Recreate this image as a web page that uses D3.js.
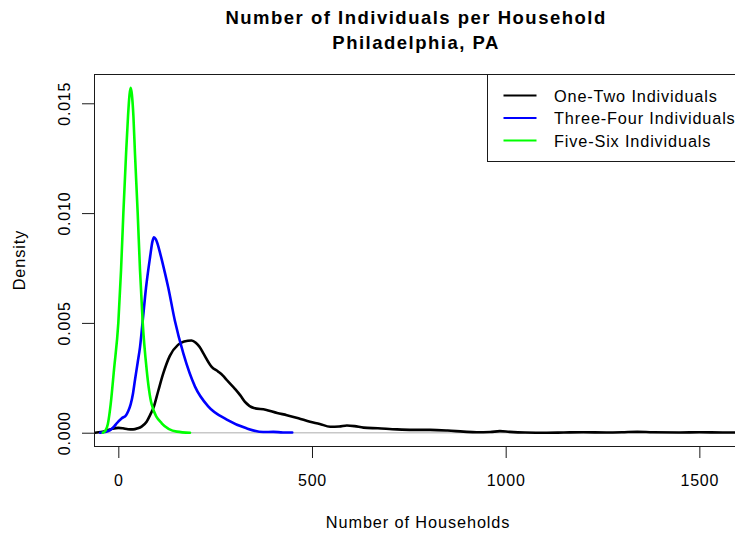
<!DOCTYPE html>
<html>
<head>
<meta charset="utf-8">
<script src="https://cdn.jsdelivr.net/npm/d3@7"></script>
<style>
  html, body { margin: 0; padding: 0; background: #fff; }
  svg { display: block; font-family: "Liberation Sans", Arial, Helvetica, sans-serif; }
</style>
</head>
<body>
<svg id="chart" width="735" height="534"></svg>
<script>
// ---------------- data ----------------
const titleLines = ["Number of Individuals per Household", "Philadelphia, PA"];
const xLabel = "Number of Households";
const yLabel = "Density";
const seriesNames = ["One-Two Individuals", "Three-Four Individuals", "Five-Six Individuals"];
const seriesColors = ["#000000", "#0000ff", "#00ff00"];
const xTicks = [0, 500, 1000, 1500];
const yTicks = [0, 0.005, 0.010, 0.015];

// One-Two Individuals: [households, density]
const oneTwo = [
  [-60, 0], [-45, 0.00003], [-30, 0.0001], [-15, 0.00018], [0, 0.00022], [12, 0.0002],
  [25, 0.00016], [38, 0.00015], [50, 0.0002], [60, 0.00028], [73, 0.0005], [82, 0.0008],
  [92, 0.0012], [103, 0.0019], [116, 0.0027], [133, 0.0035], [154, 0.0040], [170, 0.00415],
  [189, 0.0042], [200, 0.0041], [210, 0.0039], [220, 0.0036], [241, 0.0030], [258, 0.00278],
  [270, 0.0026], [280, 0.0024], [301, 0.0020], [315, 0.0017], [327, 0.0014], [350, 0.00112],
  [380, 0.00105], [410, 0.0009], [435, 0.0008], [465, 0.00066], [495, 0.0005], [520, 0.0004],
  [547, 0.00027], [570, 0.00028], [590, 0.00033], [610, 0.0003], [633, 0.00023], [670, 0.0002],
  [719, 0.00015], [760, 0.00013], [805, 0.00013], [850, 0.0001], [891, 0.00005], [925, 0.00002],
  [960, 0.00003], [985, 0.00007], [1010, 0.00004], [1050, 0.00001], [1106, 0], [1150, 0.00001],
  [1200, 0.00002], [1260, 0.00001], [1300, 0.00002], [1340, 0.00004], [1380, 0.00002],
  [1450, 0.00001], [1500, 0.00002], [1560, 0.00001], [1620, 0.00001], [1700, 0]
];

// Three-Four Individuals
const threeFour = [
  [-47, 0], [-35, 0.00003], [-21, 0.00012], [-10, 0.0003], [-4, 0.00043], [9, 0.00066],
  [20, 0.0008], [26, 0.001], [32, 0.0013], [38, 0.0018], [43, 0.0024], [50, 0.0032],
  [56, 0.0039], [63, 0.0051], [71.5, 0.0066], [82, 0.008], [88, 0.0087], [92, 0.0089], [97, 0.0088],
  [109, 0.0081], [120, 0.0073], [129, 0.0066], [146, 0.0051], [168, 0.0036], [198, 0.0021],
  [232, 0.0012], [280, 0.0006], [331, 0.0002], [374, 0.00003], [400, 0.00004], [425, 0.00001],
  [449, 0.00001]
];

// Five-Six Individuals
const fiveSix = [
  [-40, 0], [-33, 0.0001], [-27, 0.0004], [-19.7, 0.0013], [-11, 0.0029], [0, 0.005],
  [7, 0.0074], [13, 0.01], [20, 0.0127], [25, 0.0144], [29, 0.0154], [32, 0.0157], [35, 0.0154],
  [39, 0.0144], [43, 0.0127], [50, 0.01], [56, 0.0074], [63, 0.005], [73, 0.0029], [86, 0.0013],
  [112, 0.00043], [151, 0.00005], [185, 0]
];

const allSeries = [oneTwo, threeFour, fiveSix];

// ---------------- layout ----------------
const W = 735, H = 534;
const plot = { left: 94.5, right: 737.7, top: 74.5, bottom: 446.5 };

const svg = d3.select("#chart");

const x = d3.scaleLinear().domain([-61.5, 1599]).range([plot.left, plot.right]);
const y = d3.scaleLinear().domain([-0.000628, 0.016311]).range([plot.bottom, plot.top]);

// clip
svg.append("clipPath").attr("id", "clip")
  .append("rect")
  .attr("x", plot.left).attr("y", plot.top)
  .attr("width", plot.right - plot.left).attr("height", plot.bottom - plot.top);

// zero reference line (gray)
svg.append("line")
  .attr("x1", plot.left).attr("x2", plot.right)
  .attr("y1", y(0)).attr("y2", y(0))
  .attr("stroke", "#c8c8c8").attr("stroke-width", 1.5);

// curves
const line = d3.line()
  .x(d => x(d[0]))
  .y(d => y(d[1]))
  .curve(d3.curveMonotoneX);

svg.append("g").attr("clip-path", "url(#clip)")
  .selectAll("path")
  .data(allSeries)
  .join("path")
  .attr("d", line)
  .attr("fill", "none")
  .attr("stroke", (d, i) => seriesColors[i])
  .attr("stroke-width", 2.6)
  .attr("stroke-linejoin", "round")
  .attr("stroke-linecap", "round");

// box
svg.append("rect")
  .attr("x", plot.left).attr("y", plot.top)
  .attr("width", plot.right - plot.left).attr("height", plot.bottom - plot.top)
  .attr("fill", "none").attr("stroke", "#1a1a1a").attr("stroke-width", 1);

// x axis
const xAxis = svg.append("g")
  .attr("transform", `translate(0,${plot.bottom - 0.5})`)
  .call(d3.axisBottom(x).tickValues(xTicks).tickSize(12).tickFormat(d3.format("d")));
xAxis.select(".domain").remove();
xAxis.selectAll(".tick line").attr("stroke", "#1a1a1a");
xAxis.selectAll(".tick text")
  .attr("y", 39.5).attr("dy", 0)
  .attr("font-size", 16).attr("letter-spacing", 0.8)
  .attr("fill", "#000")
  .attr("font-family", "Liberation Sans, Arial, sans-serif");

// y axis
const yAxis = svg.append("g")
  .attr("transform", `translate(${plot.left - 0.5},0)`)
  .call(d3.axisLeft(y).tickValues(yTicks).tickSize(12).tickFormat(d3.format(".3f")));
yAxis.select(".domain").remove();
yAxis.selectAll(".tick line").attr("stroke", "#1a1a1a");
yAxis.selectAll(".tick text")
  .attr("x", null).attr("dy", 0)
  .attr("transform", "translate(-24.3,0) rotate(-90)")
  .attr("text-anchor", "middle")
  .attr("font-size", 16).attr("letter-spacing", 0.8)
  .attr("fill", "#000")
  .attr("font-family", "Liberation Sans, Arial, sans-serif");

// title
const midX = (plot.left + plot.right) / 2;
svg.append("g").selectAll("text")
  .data(titleLines)
  .join("text")
  .attr("x", midX)
  .attr("y", (d, i) => 23.5 + i * 25)
  .attr("text-anchor", "middle")
  .attr("font-size", 18.5)
  .attr("font-weight", "bold")
  .attr("letter-spacing", 1.5)
  .text(d => d);

// axis labels
svg.append("text")
  .attr("x", midX + 2).attr("y", 528)
  .attr("text-anchor", "middle")
  .attr("font-size", 16.3).attr("letter-spacing", 0.9)
  .text(xLabel);

svg.append("text")
  .attr("transform", "translate(25,260) rotate(-90)")
  .attr("text-anchor", "middle")
  .attr("font-size", 16.3).attr("letter-spacing", 0.9)
  .text(yLabel);

// legend
const legend = svg.append("g");
legend.append("rect")
  .attr("x", 487.5).attr("y", plot.top)
  .attr("width", plot.right - 487.5).attr("height", 161.5 - plot.top)
  .attr("fill", "#fff").attr("stroke", "#1a1a1a").attr("stroke-width", 1);

const items = legend.selectAll("g.item")
  .data(seriesNames)
  .join("g")
  .attr("class", "item")
  .attr("transform", (d, i) => `translate(0,${95.5 + i * 22.5})`);
items.append("line")
  .attr("x1", 503.5).attr("x2", 536.5)
  .attr("y1", 0).attr("y2", 0)
  .attr("stroke", (d, i) => seriesColors[i])
  .attr("stroke-width", 2);
items.append("text")
  .attr("x", 554).attr("y", 6.3)
  .attr("font-size", 16.3).attr("letter-spacing", 0.85)
  .text(d => d);
</script>
</body>
</html>
